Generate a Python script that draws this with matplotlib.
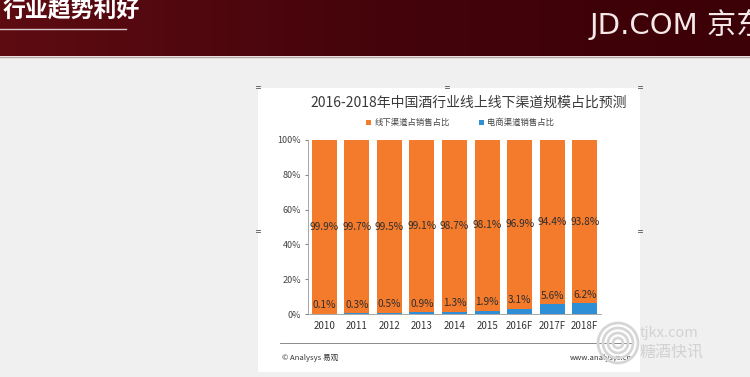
import numpy as np
import matplotlib
matplotlib.use('Agg')
import matplotlib.pyplot as plt
from matplotlib.patches import Rectangle, Circle

plt.rcParams['font.family'] = ['Noto Sans CJK SC', 'DejaVu Sans']

# datos
anios = ['2010', '2011', '2012', '2013', '2014', '2015', '2016F', '2017F', '2018F']
offline = [99.9, 99.7, 99.5, 99.1, 98.7, 98.1, 96.9, 94.4, 93.8]
online = [0.1, 0.3, 0.5, 0.9, 1.3, 1.9, 3.1, 5.6, 6.2]
yticks = [0, 20, 40, 60, 80, 100]

naranja = '#f47b2c'
azul = '#2e8fd6'

fig = plt.figure(figsize=(7.5, 3.77), dpi=100)

# fondo en pixeles
bg = fig.add_axes([0, 0, 1, 1])
bg.set_xlim(0, 750)
bg.set_ylim(377, 0)
bg.axis('off')
bg.add_patch(Rectangle((0, 0), 750, 377, fc='#f0f0f0', ec='none'))

# cabecera roja
grad = np.linspace(0, 1, 256).reshape(1, -1)
cmap = matplotlib.colors.LinearSegmentedColormap.from_list('hdr', ['#5e0b12', '#45040b', '#3c0007'])
bg.imshow(grad, extent=[0, 750, 56, 0], cmap=cmap, aspect='auto', zorder=1)
bg.plot([0, 750], [56.5, 56.5], color='#b9a6a8', lw=1, zorder=2)
bg.plot([0, 126], [29, 29], color='#d8c8c8', lw=1, zorder=2)
bg.text(3, 11, '行业趋势利好', color='white', fontsize=16.5, weight='bold', va='center', ha='left', zorder=3)
bg.text(590, 24, 'JD.COM 京东', color='#f4e8e8', fontsize=21, va='center', ha='left', zorder=3,
        family=['DejaVu Sans', 'Noto Sans CJK SC'], clip_on=True)

# recuadro blanco del grafico
bg.add_patch(Rectangle((258, 88), 382, 284, fc='white', ec='none', zorder=1))
for (hx, hy) in [(258, 87), (447, 87), (640, 87), (258, 231), (640, 231)]:
    bg.plot([hx - 2, hx + 2], [hy - 1, hy - 1], color='#555555', lw=0.6, zorder=3)
    bg.plot([hx - 2, hx + 2], [hy + 1, hy + 1], color='#555555', lw=0.6, zorder=3)

bg.text(469, 103, '2016-2018年中国酒行业线上线下渠道规模占比预测', color='#3a3a3a',
        fontsize=10, ha='center', va='center', zorder=3)

# pie del grafico
bg.plot([280, 632], [343, 343], color='#777777', lw=0.6, zorder=3)
bg.text(282, 358, '© Analysys 易观', color='#333333', fontsize=5.5, ha='left', va='center', zorder=3)
bg.text(632, 358, 'www.analysys.cn', color='#333333', fontsize=5.5, ha='right', va='center', zorder=3)

# marca de agua abajo a la derecha
for r in [5, 10, 15, 20]:
    bg.add_patch(Circle((618, 343), r, fill=False, ec='#d6d6d6', lw=2, zorder=4))
bg.text(640, 333, 'tjkx.com', color='#d2d2d2', fontsize=10.5, ha='left', va='center', zorder=4)
bg.text(640, 353, '糖酒快讯', color='#d2d2d2', fontsize=11.5, ha='left', va='center', zorder=4)

# ejes del grafico
ax = fig.add_axes([308 / 750, (377 - 314) / 377, 293 / 750, 174 / 377])
x = np.arange(len(anios))
b1 = ax.bar(x, offline, width=0.77, bottom=online, color=naranja, label='线下渠道占销售占比', zorder=2)
b2 = ax.bar(x, online, width=0.77, color=azul, label='电商渠道销售占比', zorder=2)

for i in range(len(anios)):
    ax.text(x[i], online[i] + offline[i] / 2, '%.1f%%' % offline[i], ha='center', va='center',
            fontsize=7.3, color='#2e2e2e')
    ax.text(x[i], online[i] + 5, '%.1f%%' % online[i], ha='center', va='center',
            fontsize=7.3, color='#2e2e2e')

ax.set_xlim(-0.5, 8.5)
ax.set_ylim(0, 100)
ax.set_yticks(yticks)
ax.set_yticklabels(['%d%%' % v for v in yticks], fontsize=6.5, color='#444444')
ax.set_xticks(x)
ax.set_xticklabels(anios, fontsize=7, color='#333333')
ax.tick_params(axis='x', length=0, pad=5)
ax.tick_params(axis='y', length=2, color='#888888', pad=3)
for s in ['top', 'right']:
    ax.spines[s].set_visible(False)
ax.spines['left'].set_color('#999999')
ax.spines['bottom'].set_color('#999999')
ax.spines['left'].set_linewidth(0.6)
ax.spines['bottom'].set_linewidth(0.6)
ax.set_facecolor('none')

ax.legend(handles=[b1, b2], ncol=2, frameon=False, fontsize=6, loc='center',
          bbox_to_anchor=(0.52, 1.1), handlelength=0.6, handleheight=0.6,
          handletextpad=0.4, columnspacing=3.5, labelcolor='#444444')

fig.savefig('out.png', dpi=100)
